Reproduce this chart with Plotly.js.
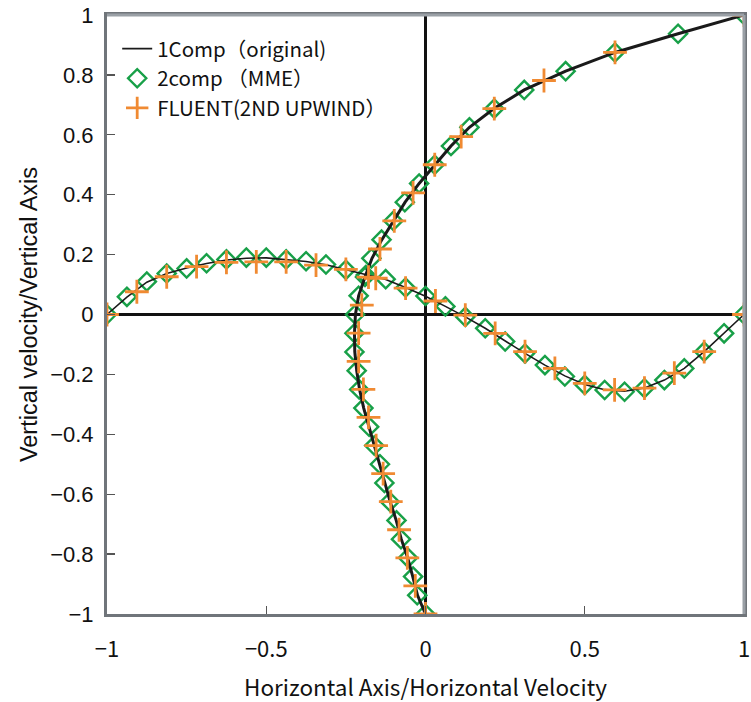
<!DOCTYPE html>
<html>
<head>
<meta charset="utf-8">
<script src="https://cdn.plot.ly/plotly-3.0.1.min.js"></script>
<style>
html,body{margin:0;padding:0;background:#fff;}
#chart{width:751px;height:702px;}
</style>
</head>
<body>
<div id="chart"></div>
<script>
// ---- Data ----
// grid of the 1Comp line and the 2comp (MME) diamonds
const gridPos = [-1, -0.9375, -0.875, -0.8125, -0.75, -0.6875, -0.625, -0.5625, -0.5, -0.4375, -0.375, -0.3125, -0.25, -0.1875, -0.125, -0.0625, 0,
                 0.0625, 0.125, 0.1875, 0.25, 0.3125, 0.375, 0.4375, 0.5, 0.5625, 0.625, 0.6875, 0.75, 0.8125, 0.875, 0.9375, 1];

// vertical velocity along the horizontal axis (x = position, y = v)
const oneCompV = [0, 0.058, 0.108, 0.137, 0.155, 0.17, 0.182, 0.188, 0.189, 0.184, 0.177, 0.166, 0.15, 0.133, 0.117, 0.09, 0.061,
                  0.027, -0.008, -0.046, -0.089, -0.13, -0.169, -0.205, -0.234, -0.251, -0.256, -0.245, -0.219, -0.18, -0.124, -0.063, 0];
const mmeV     = [0, 0.059, 0.11, 0.137, 0.154, 0.171, 0.184, 0.19, 0.19, 0.184, 0.178, 0.167, 0.149, 0.132, 0.118, 0.09, 0.062,
                  0.027, -0.008, -0.046, -0.09, -0.13, -0.169, -0.207, -0.235, -0.252, -0.258, -0.246, -0.219, -0.18, -0.124, -0.063, 0];

// horizontal velocity along the vertical axis (x = u, y = position)
const oneCompU = [0, -0.025, -0.04, -0.056, -0.076, -0.092, -0.111, -0.128, -0.144, -0.16, -0.177, -0.194, -0.207, -0.216, -0.222, -0.223, -0.22,
                  -0.21, -0.19, -0.168, -0.137, -0.1, -0.064, -0.02, 0.029, 0.08, 0.138, 0.215, 0.31, 0.44, 0.595, 0.793, 1];
const mmeU     = [0, -0.026, -0.039, -0.055, -0.077, -0.091, -0.112, -0.129, -0.143, -0.161, -0.177, -0.195, -0.208, -0.216, -0.223, -0.223, -0.221,
                  -0.21, -0.19, -0.17, -0.138, -0.101, -0.065, -0.02, 0.029, 0.08, 0.138, 0.216, 0.31, 0.44, 0.595, 0.793, 1];

// FLUENT (2nd upwind) sample positions and values
const fluentPos = [-1, -0.90625, -0.8125, -0.71875, -0.625, -0.53125, -0.4375, -0.34375, -0.25, -0.15625, -0.0625,
                   0.03125, 0.125, 0.21875, 0.3125, 0.40625, 0.5, 0.59375, 0.6875, 0.78125, 0.875, 1];
const fluentV = [0, 0.076, 0.126, 0.16, 0.174, 0.176, 0.176, 0.165, 0.151, 0.121, 0.088,
                 0.045, -0.002, -0.063, -0.124, -0.18, -0.23, -0.252, -0.246, -0.196, -0.124, 0];
const fluentU = [0, -0.032, -0.057, -0.083, -0.109, -0.133, -0.155, -0.179, -0.195, -0.21, -0.21,
                 -0.2, -0.179, -0.143, -0.098, -0.039, 0.029, 0.112, 0.216, 0.372, 0.595, 1];

const seriesNames = ['1Comp\uFF08original)', '2comp \uFF08MME\uFF09', 'FLUENT(2ND UPWIND\uFF09'];
const tickValsX = [-1, -0.5, 0, 0.5, 1];
const tickTextX = ['\u22121', '\u22120.5', '0', '0.5', '1'];
const tickValsY = [-1, -0.8, -0.6, -0.4, -0.2, 0, 0.2, 0.4, 0.6, 0.8, 1];
const tickTextY = ['\u22121', '\u22120.8', '\u22120.6', '\u22120.4', '\u22120.2', '0', '0.2', '0.4', '0.6', '0.8', '1'];

// ---- Styles ----
const GREEN = '#18a048';
const ORANGE = '#f08a32';
const JP = '"Noto Sans CJK JP", "Noto Sans", sans-serif';
const AR = '"Liberation Sans", Arial, sans-serif';

const diamond = { symbol: 'diamond-open', size: 14, color: GREEN, line: { width: 2.4, color: GREEN } };
const plus = { symbol: 'cross-thin-open', size: 17, color: ORANGE, line: { width: 2.8, color: ORANGE } };

const traces = [
  { x: gridPos, y: mmeV, mode: 'markers', name: seriesNames[1], legendrank: 2, marker: diamond },
  { x: mmeU, y: gridPos, mode: 'markers', name: seriesNames[1], showlegend: false, marker: diamond },
  { x: gridPos, y: oneCompV, mode: 'lines', name: seriesNames[0], legendrank: 1,
    line: { color: '#1a1a1a', width: 1.6 } },
  { x: oneCompU, y: gridPos, mode: 'lines', name: seriesNames[0], showlegend: false,
    line: { color: '#1a1a1a', width: 3 } },
  { x: fluentPos, y: fluentV, mode: 'markers', name: seriesNames[2], legendrank: 3, marker: plus },
  { x: fluentU, y: fluentPos, mode: 'markers', name: seriesNames[2], showlegend: false, marker: plus }
];

const layout = {
  width: 751, height: 702,
  margin: { l: 107, r: 7, t: 15, b: 88 },
  paper_bgcolor: '#ffffff', plot_bgcolor: '#ffffff',
  showlegend: true,
  legend: {
    x: 0.016, y: 0.977, xanchor: 'left', yanchor: 'top',
    traceorder: 'normal',
    bgcolor: 'rgba(0,0,0,0)', borderwidth: 0,
    font: { family: JP, size: 20.5, color: '#111' },
    itemwidth: 30
  },
  xaxis: {
    range: [-1, 1], tickvals: tickValsX, ticktext: tickTextX,
    ticks: 'inside', ticklen: 8, tickwidth: 1.2, tickcolor: '#555',
    showgrid: false,
    zeroline: true, zerolinecolor: '#111', zerolinewidth: 3,
    showline: true, mirror: true, linecolor: '#70757a', linewidth: 3,
    ticklabelstandoff: 14,
    tickfont: { family: JP, size: 22, color: '#111' },
    title: { text: 'Horizontal Axis/Horizontal Velocity', font: { family: JP, size: 22.5, color: '#111' }, standoff: 19 }
  },
  yaxis: {
    range: [-1, 1], tickvals: tickValsY, ticktext: tickTextY,
    ticks: 'inside', ticklen: 8, tickwidth: 1.2, tickcolor: '#555',
    showgrid: false,
    zeroline: true, zerolinecolor: '#111', zerolinewidth: 3,
    showline: true, mirror: true, linecolor: '#70757a', linewidth: 3,
    ticklabelstandoff: 6,
    tickfont: { family: AR, size: 22, color: '#111' },
    title: { text: 'Vertical velocity/Vertical Axis', font: { family: AR, size: 23.5, color: '#111' }, standoff: 6 }
  },
  shapes: [
    { type: 'line', xref: 'paper', yref: 'paper', x0: 0, x1: 1, y0: 1, y1: 1, line: { color: '#9aa0a6', width: 3 } },
    { type: 'line', xref: 'paper', yref: 'paper', x0: 1, x1: 1, y0: 0, y1: 1, line: { color: '#9aa0a6', width: 3 } }
  ]
};

Plotly.newPlot('chart', traces, layout, { displayModeBar: false, staticPlot: true });
</script>
</body>
</html>
